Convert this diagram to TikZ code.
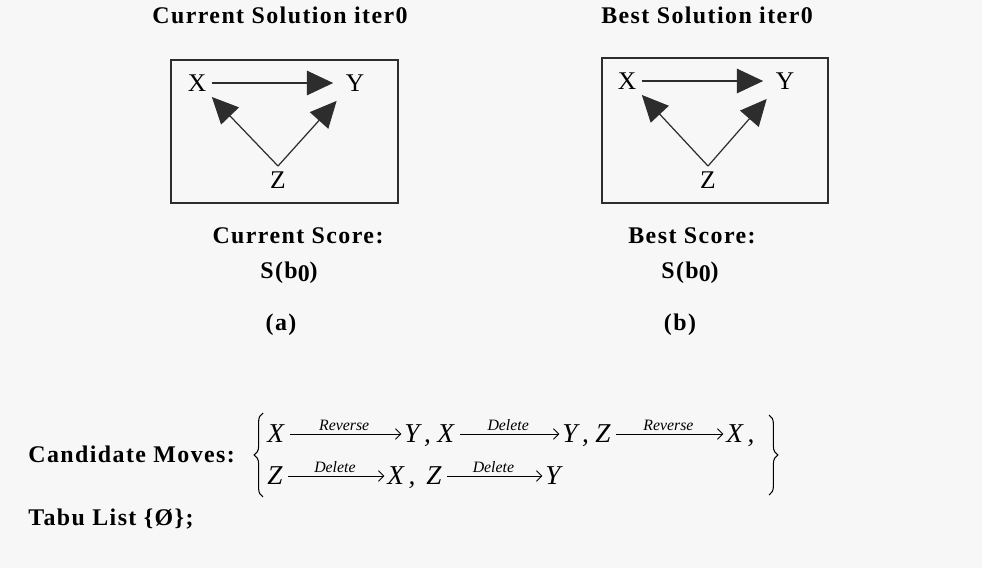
\documentclass[tikz,border=0pt]{standalone}
\usepackage{fontspec}
\setmainfont{Liberation Serif}
\newfontfamily\headfont[LetterSpace=6]{Liberation Serif}
\usetikzlibrary{arrows.meta,positioning,decorations.pathreplacing}
\definecolor{paper}{RGB}{247,247,247}
\definecolor{ink}{RGB}{45,45,45}

\begin{document}
\begin{tikzpicture}[x=0.02cm,y=-0.02cm,
  head/.style={font=\headfont\bfseries\fontsize{13.6}{15}\selectfont,text=black,inner sep=0pt,anchor=base},
  gnode/.style={font=\fontsize{14.5}{16}\selectfont,inner sep=3pt},
  edge/.style={-{Triangle[length=15pt,width=14pt]},line width=0.7pt,draw=ink},
  frame/.style={draw=ink,line width=0.9pt},
  mvar/.style={font=\itshape\fontsize{15.5}{17}\selectfont,inner sep=0pt,text height=10pt,text depth=0pt,anchor=west},
  mvarrow/.style={-{Straight Barb[length=3pt,width=6pt]},line width=0.5pt,shorten <=3pt,shorten >=1.5pt},
  mvlabel/.style={midway,above,inner sep=1.5pt,font=\itshape\fontsize{9}{10}\selectfont},
  curly/.style={decorate,decoration={brace,amplitude=5pt},line width=0.6pt}]
  \fill[paper] (0,0) rectangle (982,568);
  \useasboundingbox (0,0) rectangle (982,568);

  % (a) current solution
  \node[head] (curhead) at (280,23) {Current Solution iter0};
  \draw[frame] (171,60) rectangle (398,203);
  \node[gnode] (cx) at (197,83) {X};
  \node[gnode] (cy) at (355,83) {Y};
  \node[gnode] (cz) at (278,180) {Z};
  \draw[edge,shorten >=4pt] (cx.east) -- (cy.west);
  \draw[edge] (cz.north) -- (cx.south east);
  \draw[edge,shorten >=3pt] (cz.north) -- (cy.south west);
  \node[head] (curscore) at (298,243) {Current Score:};
  \node[head] (curval) at (289,278) {S(b\raisebox{-2pt}{0})};
  \node[head] (cura) at (281,330) {(a)};

  % (b) best solution
  \node[head] (besthead) at (707,23) {Best Solution iter0};
  \draw[frame] (602,58) rectangle (828,203);
  \node[gnode] (bx) at (627,81) {X};
  \node[gnode] (by) at (785,81) {Y};
  \node[gnode] (bz) at (708,180) {Z};
  \draw[edge,shorten >=4pt] (bx.east) -- (by.west);
  \draw[edge] (bz.north) -- (bx.south east);
  \draw[edge,shorten >=3pt] (bz.north) -- (by.south west);
  \node[head] (bestscore) at (692,243) {Best Score:};
  \node[head] (bestval) at (690,278) {S(b\raisebox{-2pt}{0})};
  \node[head] (bestb) at (680,330) {(b)};

  % candidate moves
  \node[head,anchor=base west] (cand) at (28,462) {Candidate Moves:};
  \coordinate (lbtop) at (263,413);
  \coordinate (lbbot) at (263,497);
  \coordinate (rbtop) at (769,415);
  \coordinate (rbbot) at (769,495);
  \draw[curly] (lbbot) -- (lbtop);
  \draw[curly] (rbtop) -- (rbbot);

  \node[mvar] (r1a) at (267,434) {X};
  \node[mvar] (r1b) at (404,434) {Y\,,};
  \node[mvar] (r1c) at (437,434) {X};
  \node[mvar] (r1d) at (562,434) {Y\,,};
  \node[mvar] (r1e) at (595,434) {Z};
  \node[mvar] (r1f) at (726,434) {X\,,};
  \draw[mvarrow] (r1a) -- (r1b) node[mvlabel] {Reverse};
  \draw[mvarrow] (r1c) -- (r1d) node[mvlabel] {Delete};
  \draw[mvarrow] (r1e) -- (r1f) node[mvlabel] {Reverse};

  \node[mvar] (r2a) at (267,476) {Z};
  \node[mvar] (r2b) at (387,476) {X\,,};
  \node[mvar] (r2c) at (426,476) {Z};
  \node[mvar] (r2d) at (545,476) {Y};
  \draw[mvarrow] (r2a) -- (r2b) node[mvlabel] {Delete};
  \draw[mvarrow] (r2c) -- (r2d) node[mvlabel] {Delete};

  % tabu list
  \node[head,anchor=base west] (tabu) at (28,525) {Tabu List \{Ø\};};
\end{tikzpicture}
\end{document}
